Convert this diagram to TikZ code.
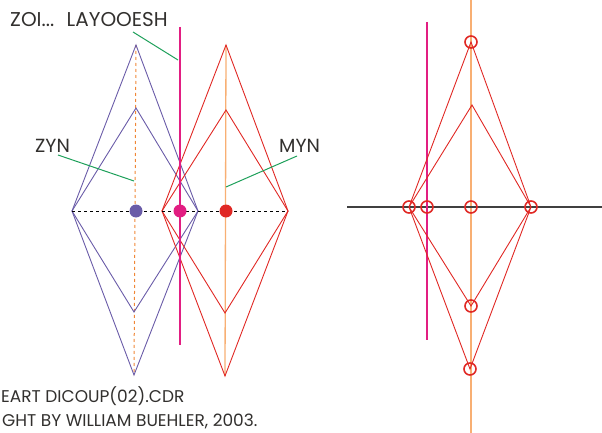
\documentclass[tikz,border=0pt]{standalone}
\usepackage{fontspec}
\setmainfont{Poppins}
\definecolor{zynpurple}{RGB}{106,92,168}
\definecolor{mynred}{RGB}{224,40,36}
\definecolor{layomag}{RGB}{226,30,130}
\definecolor{axisorange}{RGB}{248,175,115}
\definecolor{dashorange}{RGB}{240,135,55}
\definecolor{leadgreen}{RGB}{30,160,90}
\definecolor{txtgray}{RGB}{50,48,46}
\tikzset{
  lbl/.style={inner sep=0pt, anchor=base west, text=txtgray, font=\fontsize{19}{19}\selectfont},
  smalllbl/.style={lbl, font=\fontsize{17}{17}\selectfont},
  leader/.style={color=leadgreen, line width=1pt},
  dot/.style={circle, fill, inner sep=0pt, minimum size=13pt},
  ring/.style={circle, draw=mynred, line width=1.6pt, inner sep=0pt, minimum size=12pt}
}
\begin{document}
\begin{tikzpicture}[x=1pt,y=-1pt]
\useasboundingbox (0,0) rectangle (602,433);

% labels
\node[lbl, font=\fontsize{20}{20}\selectfont] (zoi) at (10,27) {ZOI...~ LAYOOESH};
\node[lbl] (zyn) at (35,153) {ZYN};
\node[lbl] (myn) at (279,152) {MYN};
\node[smalllbl] (file) at (1,402) {EART DICOUP(02).CDR};
\node[smalllbl] (copy) at (2,426) {GHT BY WILLIAM BUEHLER, 2003.};

% left figure: zyn diamonds
\coordinate (ZL) at (72,211);
\coordinate (ZR) at (198,211);
\coordinate (ZT) at (136,45);
\coordinate (Zt) at (136,108);
\coordinate (Zb) at (134,312);
\coordinate (ZB) at (134,375);
\draw[dashorange, line width=1pt, dashed] (ZT) -- (ZB);
\draw[zynpurple, line width=0.9pt] (ZL) -- (ZT) -- (ZR) -- (ZB) -- cycle;
\draw[zynpurple, line width=0.9pt] (ZL) -- (Zt) -- (ZR) -- (Zb) -- cycle;

% left figure: myn diamonds
\coordinate (ML) at (162,211);
\coordinate (MR) at (288,211);
\coordinate (MT) at (226,45);
\coordinate (Mt) at (226,110);
\coordinate (Mb) at (225,313);
\coordinate (MB) at (225,376);
\draw[axisorange, line width=1.3pt] (MT) -- (MB);
\draw[mynred, line width=0.9pt] (ML) -- (MT) -- (MR) -- (MB) -- cycle;
\draw[mynred, line width=0.9pt] (ML) -- (Mt) -- (MR) -- (Mb) -- cycle;

% layooesh line and centre line
\coordinate (laytop) at (180,27);
\coordinate (laybot) at (180,345);
\draw[layomag, line width=1.5pt] (laytop) -- (laybot);
\draw[black, line width=0.9pt, dash pattern=on 3pt off 3pt] (ZL) -- (MR);
\node[dot, fill=zynpurple] (zdot) at (136,211) {};
\node[dot, fill=layomag] (ldot) at (180,211) {};
\node[dot, fill=mynred] (mdot) at (226,211) {};

% leaders
\coordinate (zoiend) at (133,32);
\coordinate (layend) at (178,60);
\draw[leader] (zoiend) -- (layend);
\coordinate (zynend) at (58,155);
\coordinate (zynaxis) at (134,181);
\draw[leader] (zynend) -- (zynaxis);
\coordinate (mynend) at (297,156);
\coordinate (mynaxis) at (226,187);
\draw[leader] (mynaxis) -- (mynend);

% right figure
\coordinate (axL) at (347,207);
\coordinate (axR) at (602,207);
\coordinate (vtop) at (471,0);
\coordinate (vbot) at (471,433);
\coordinate (rlay) at (427,22);
\coordinate (rlaybot) at (427,340);
\draw[axisorange, line width=1.3pt] (vtop) -- (vbot);
\draw[black!75, line width=1.1pt] (axL) -- (axR);
\draw[layomag, line width=1.3pt] (rlay) -- (rlaybot);
\coordinate (RL) at (409,207);
\coordinate (RR) at (531,207);
\coordinate (RT) at (471,42);
\coordinate (Rt) at (472,105);
\coordinate (Rb) at (471,306);
\coordinate (RB) at (470,369);
\draw[mynred, line width=0.9pt] (RL) -- (RT) -- (RR) -- (RB) -- cycle;
\draw[mynred, line width=0.9pt] (RL) -- (Rt) -- (RR) -- (Rb) -- cycle;
\node[ring] (cT) at (RT) {};
\node[ring] (cL) at (RL) {};
\node[ring] (cLay) at (427,207) {};
\node[ring] (cC) at (471,207) {};
\node[ring] (cR) at (RR) {};
\node[ring] (cb) at (Rb) {};
\node[ring] (cB) at (RB) {};
\end{tikzpicture}
\end{document}
